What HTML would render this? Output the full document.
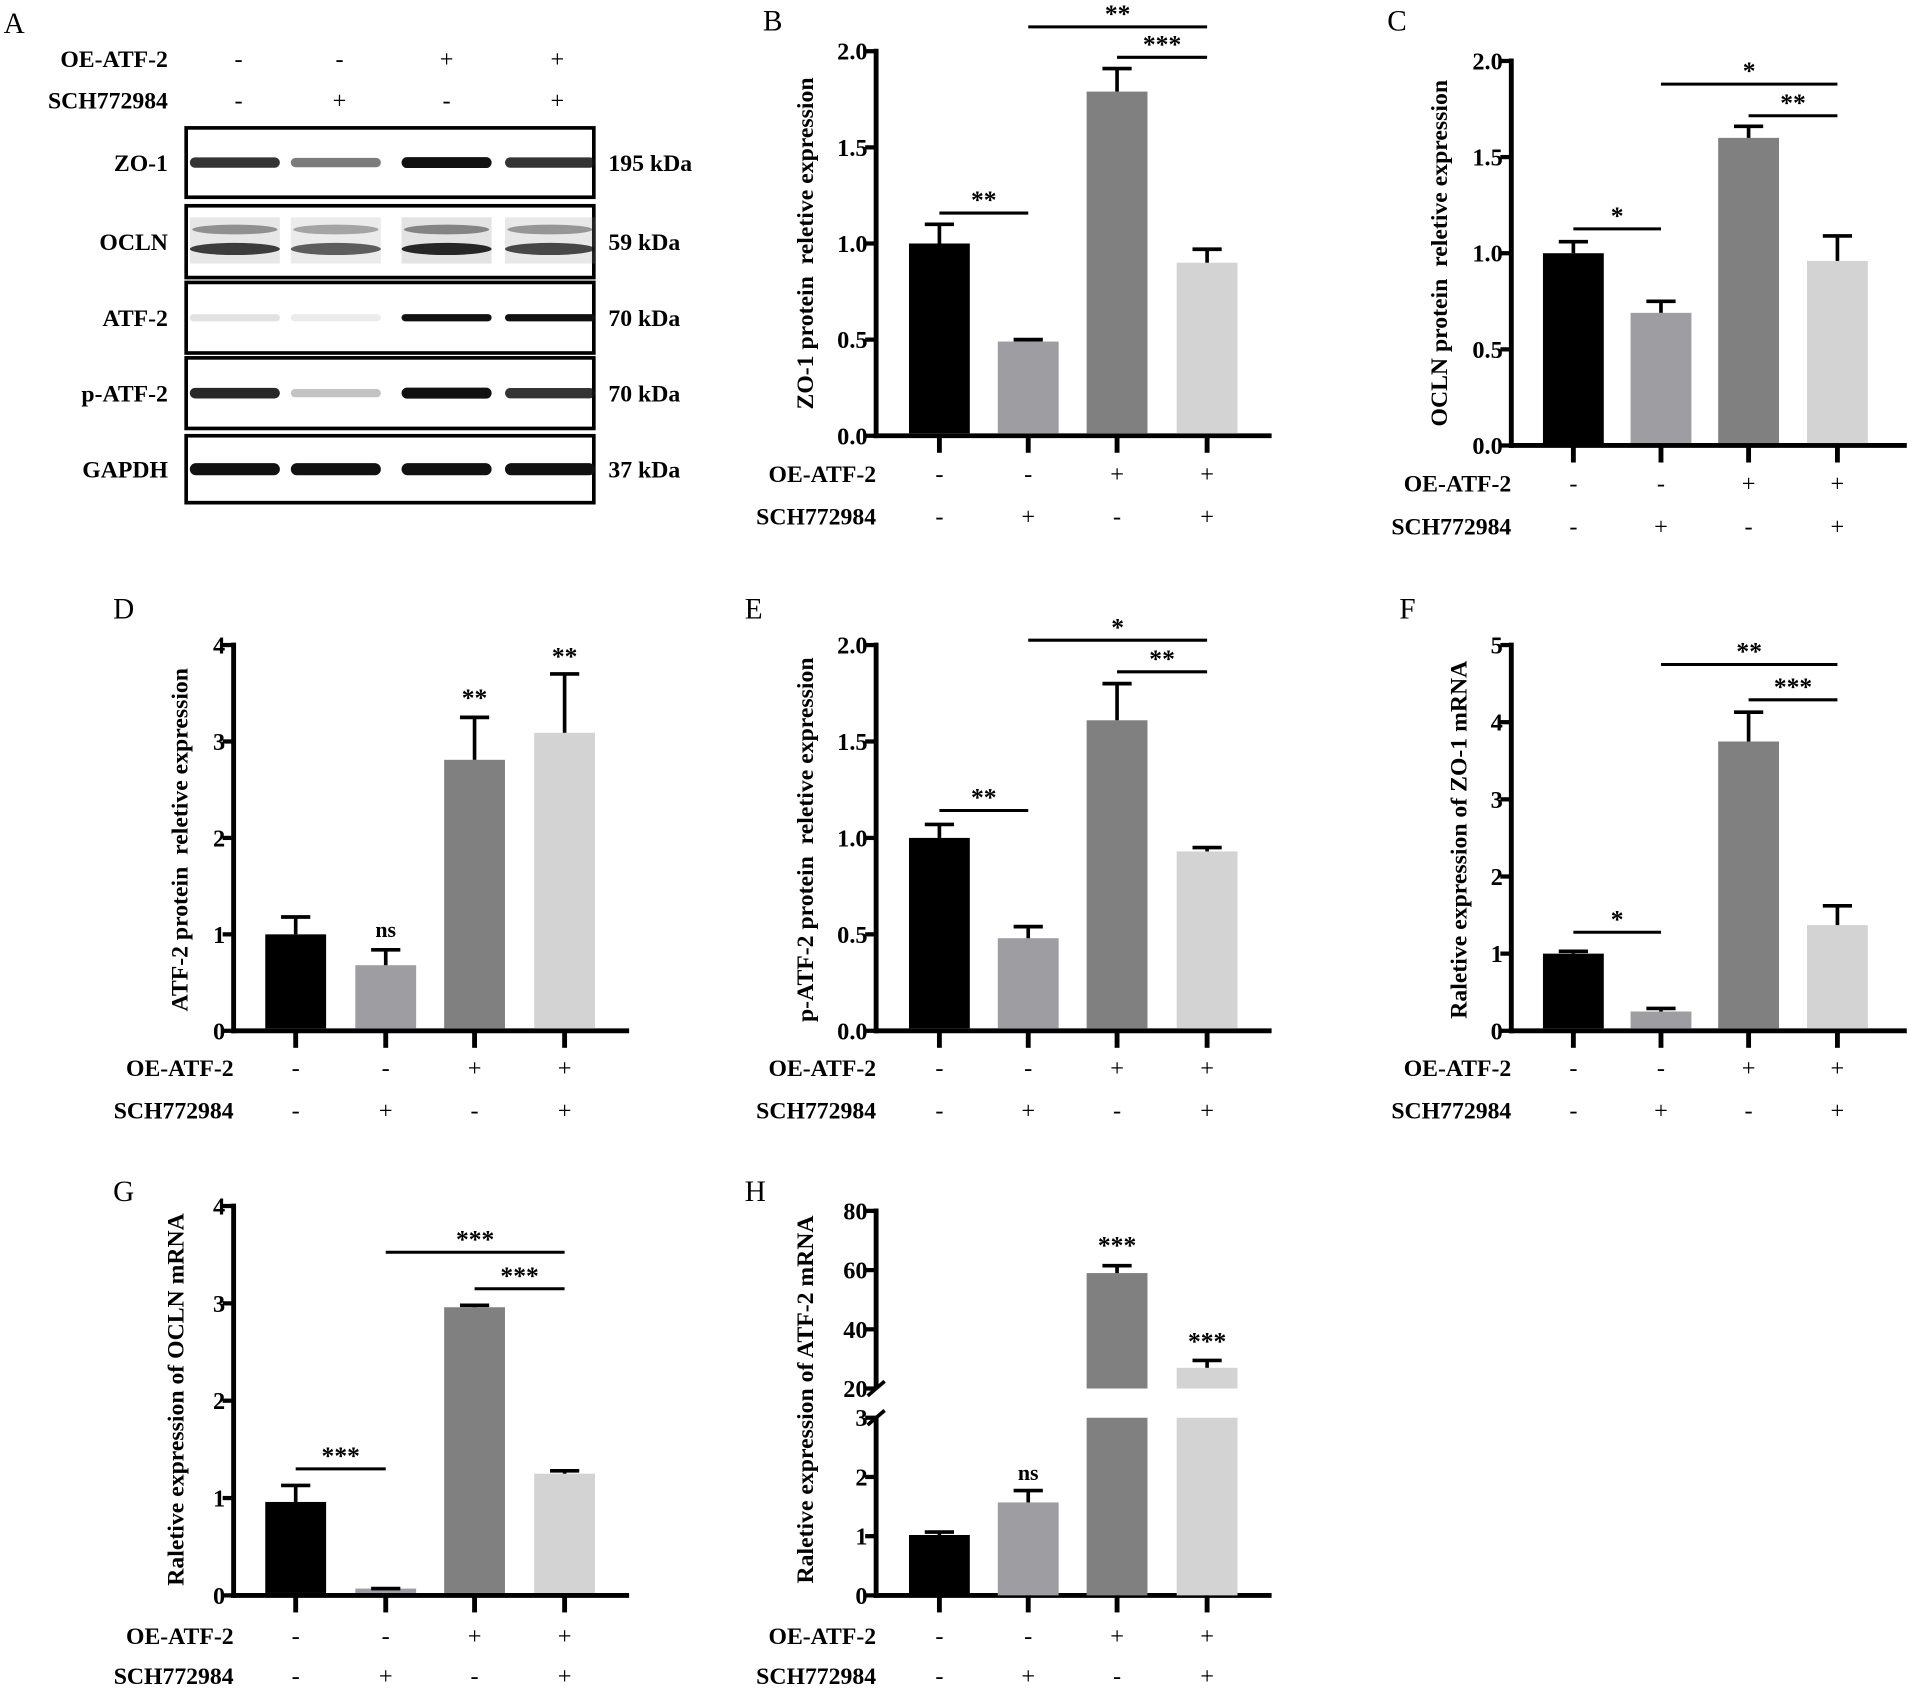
<!DOCTYPE html>
<html><head><meta charset="utf-8">
<style>
html,body{margin:0;padding:0;background:#fff;}
svg{display:block;}
text{font-family:"Liberation Serif",serif;white-space:pre;}
</style></head>
<body>
<svg id="fig" xmlns="http://www.w3.org/2000/svg" width="1908" height="1688" viewBox="0 0 1568 1387">
<g id="panelA"></g>
</svg>
<script>
// ---------- data ----------
const conditionOE = ["-","-","+","+"];
const conditionSCH = ["-","+","-","+"];
const barColors = ["#000000","#9d9da2","#808080","#d3d3d3"];

const zo1Protein = [1.0,0.49,1.79,0.90];
const zo1ProteinErr = [0.10,0.01,0.12,0.07];
const oclnProtein = [1.0,0.69,1.60,0.96];
const oclnProteinErr = [0.06,0.06,0.06,0.13];
const atf2Protein = [1.0,0.68,2.81,3.09];
const atf2ProteinErr = [0.18,0.16,0.44,0.61];
const patf2Protein = [1.0,0.48,1.61,0.93];
const patf2ProteinErr = [0.07,0.06,0.19,0.02];
const zo1Mrna = [1.0,0.25,3.75,1.37];
const zo1MrnaErr = [0.03,0.04,0.38,0.25];
const oclnMrna = [0.96,0.07,2.96,1.25];
const oclnMrnaErr = [0.17,0.0,0.02,0.03];
const atf2Mrna = [1.02,1.57,59.0,27.0];
const atf2MrnaErr = [0.05,0.20,2.5,2.5];

const ticks2 = [0,0.5,1.0,1.5,2.0];
const ticks2Labels = ["0.0","0.5","1.0","1.5","2.0"];
const ticks4 = [0,1,2,3,4];
const ticks4Labels = ["0","1","2","3","4"];
const ticks5 = [0,1,2,3,4,5];
const ticks5Labels = ["0","1","2","3","4","5"];
const ticksHLow = [0,1,2,3];
const ticksHLowLabels = ["0","1","2","3"];
const ticksHHigh = [20,40,60,80];
const ticksHHighLabels = ["20","40","60","80"];

const blotRows = ["ZO-1","OCLN","ATF-2","p-ATF-2","GAPDH"];
const blotKda = ["195 kDa","59 kDa","70 kDa","70 kDa","37 kDa"];
const blotIntensity = [[0.85,0.55,1.0,0.85],[0.8,0.65,0.9,0.75],[0.12,0.08,1.0,1.0],[0.9,0.25,1.0,0.85],[1,1,1,1]];

// ---------- helpers ----------
const NS="http://www.w3.org/2000/svg";
const svg=document.getElementById('fig');
function mk(tag,attrs,parent,txt){const e=document.createElementNS(NS,tag);for(const k in attrs)e.setAttribute(k,attrs[k]);if(txt!==undefined)e.textContent=txt;(parent||svg).appendChild(e);return e;}
const FT=20, FL=19.5, FY=19.5;

function panel(cfg){
  const g=mk('g',{},svg);
  
  
  const L=mk('text',{x:cfg.letterX,y:cfg.letterY,'font-size':24},g,cfg.id.toUpperCase());
  
  
  const ax=cfg.axisX, y0=cfg.y0;
  const yScale = cfg.yScale;
  cfg.tickSets.forEach(ts=>{
    ts.ticks.forEach((t,i)=>{
      const y=ts.scale(t);
      mk('line',{x1:ax-9,x2:ax,y1:y,y2:y,stroke:'#000','stroke-width':3.5},g);
      const tl=mk('text',{x:ax-7,y:y+7,'font-size':FT,'font-weight':'bold','text-anchor':'end'},g,ts.labels[i]);
      
      
    });
  });
  cfg.axisSegs.forEach(s=>{
    const a=mk('line',{x1:ax,x2:ax,y1:s[0],y2:s[1],stroke:'#000','stroke-width':4},g);
    
    
  });
  const xa=mk('line',{x1:ax-2,x2:ax+325,y1:y0,y2:y0,stroke:'#000','stroke-width':4},g);
  
  
  const bw=50;
  cfg.values.forEach((v,i)=>{
    const cx=cfg.centers[i];
    const segs = cfg.barSegs ? cfg.barSegs(v) : [[yScale(v),y0]];
    segs.forEach(sg=>{
      const r=mk('rect',{x:cx-bw/2,y:sg[0],width:bw,height:Math.max(0,sg[1]-sg[0]-2),fill:barColors[i]},g);
      
      
    });
    const top=cfg.errScale(v), et=cfg.errScale(v+cfg.errs[i]);
    if(cfg.errs[i]>0){
      const el=mk('line',{x1:cx,x2:cx,y1:top,y2:et,stroke:'#000','stroke-width':3},g);
      
      
    }
    const cp=mk('line',{x1:cx-12,x2:cx+12,y1:et,y2:et,stroke:'#000','stroke-width':3},g);
    
    
    mk('line',{x1:cx,x2:cx,y1:y0,y2:y0+14,stroke:'#000','stroke-width':4},g);
    const s1=mk('text',{x:cx,y:cfg.row1Y,'font-size':20,'text-anchor':'middle'},g,conditionOE[i]);
    
    
    const s2=mk('text',{x:cx,y:cfg.row2Y,'font-size':20,'text-anchor':'middle'},g,conditionSCH[i]);
    
    
  });
  const r1=mk('text',{x:ax,y:cfg.row1Y,'font-size':FL,'font-weight':'bold','text-anchor':'end'},g,'OE-ATF-2');
  
  
  const r2=mk('text',{x:ax,y:cfg.row2Y,'font-size':FL,'font-weight':'bold','text-anchor':'end'},g,'SCH772984');
  
  
  const yt=mk('text',{x:0,y:0,'font-size':FY,'font-weight':'bold','text-anchor':'middle',transform:`translate(${cfg.titleX},${cfg.titleY}) rotate(-90)`},g,cfg.title);
  
  
  cfg.sig.forEach(s=>{
    if(s.from!==undefined){
      const ln=mk('line',{x1:cfg.centers[s.from],x2:cfg.centers[s.to],y1:s.y,y2:s.y,stroke:'#000','stroke-width':2.5},g);
      
      
    }
    const cx = s.from!==undefined ? (cfg.centers[s.from]+cfg.centers[s.to])/2 : cfg.centers[s.at];
    const t=mk('text',{x:cx,y:s.y-4,'font-size':s.label==='ns'?18:21,'font-weight':'bold','text-anchor':'middle'},g,s.label);
    
    
  });
  return g;
}
function lin(v0,p0,v1,p1){return v=>p0+(v-v0)*(p1-p0)/(v1-v0);}

const cR=[772,845,918,992], cL=[243,317,390,464], cC=[1293,1365,1437,1510];

(function(){const s=lin(0,358,2,42);panel({id:'b',letterX:627,letterY:25,axisX:720,y0:358,yScale:s,errScale:s,
 tickSets:[{ticks:ticks2,labels:ticks2Labels,scale:s}],axisSegs:[[40,360]],values:zo1Protein,errs:zo1ProteinErr,centers:cR,
 row1Y:396,row2Y:431,title:'ZO-1 protein  reletive expression',titleX:668,titleY:200,
 sig:[{from:0,to:1,y:175,label:'**'},{from:1,to:3,y:22,label:'**'},{from:2,to:3,y:47,label:'***'}]});})();
(function(){const s=lin(0,366,2,50);panel({id:'c',letterX:1140,letterY:25,axisX:1242,y0:366,yScale:s,errScale:s,
 tickSets:[{ticks:ticks2,labels:ticks2Labels,scale:s}],axisSegs:[[48,368]],values:oclnProtein,errs:oclnProteinErr,centers:cC,
 row1Y:404,row2Y:439,title:'OCLN protein  reletive expression',titleX:1189,titleY:208,
 sig:[{from:0,to:1,y:188,label:'*'},{from:1,to:3,y:69,label:'*'},{from:2,to:3,y:95,label:'**'}]});})();
(function(){const s=lin(0,847,4,530);panel({id:'d',letterX:93,letterY:508,axisX:192,y0:847,yScale:s,errScale:s,
 tickSets:[{ticks:ticks4,labels:ticks4Labels,scale:s}],axisSegs:[[528,849]],values:atf2Protein,errs:atf2ProteinErr,centers:cL,
 row1Y:884,row2Y:919,title:'ATF-2 protein  reletive expression',titleX:154,titleY:690,
 sig:[{at:1,y:774,label:'ns'},{at:2,y:584,label:'**'},{at:3,y:550,label:'**'}]});})();
(function(){const s=lin(0,847,2,530);panel({id:'e',letterX:612,letterY:508,axisX:720,y0:847,yScale:s,errScale:s,
 tickSets:[{ticks:ticks2,labels:ticks2Labels,scale:s}],axisSegs:[[528,849]],values:patf2Protein,errs:patf2ProteinErr,centers:cR,
 row1Y:884,row2Y:919,title:'p-ATF-2 protein  reletive expression',titleX:668,titleY:690,
 sig:[{from:0,to:1,y:666,label:'**'},{from:1,to:3,y:526,label:'*'},{from:2,to:3,y:552,label:'**'}]});})();
(function(){const s=lin(0,847,5,530);panel({id:'f',letterX:1150,letterY:508,axisX:1242,y0:847,yScale:s,errScale:s,
 tickSets:[{ticks:ticks5,labels:ticks5Labels,scale:s}],axisSegs:[[528,849]],values:zo1Mrna,errs:zo1MrnaErr,centers:cC,
 row1Y:884,row2Y:919,title:'Raletive expression of ZO-1 mRNA',titleX:1205,titleY:690,
 sig:[{from:0,to:1,y:766,label:'*'},{from:1,to:3,y:546,label:'**'},{from:2,to:3,y:575,label:'***'}]});})();
(function(){const s=lin(0,1311,4,991);panel({id:'g',letterX:93,letterY:987,axisX:192,y0:1311,yScale:s,errScale:s,
 tickSets:[{ticks:ticks4,labels:ticks4Labels,scale:s}],axisSegs:[[989,1313]],values:oclnMrna,errs:oclnMrnaErr,centers:cL,
 row1Y:1351,row2Y:1384,title:'Raletive expression of OCLN mRNA',titleX:151,titleY:1150,
 sig:[{from:0,to:1,y:1207,label:'***'},{from:1,to:3,y:1029,label:'***'},{from:2,to:3,y:1059,label:'***'}]});})();
(function(){const lo=lin(0,1311,3,1165), hi=lin(20,1141,80,995);
 const sc=v=> v<=3?lo(v):(v>=20?hi(v):1153);
 const g=panel({id:'h',letterX:612,letterY:987,axisX:720,y0:1311,yScale:sc,errScale:sc,
 tickSets:[{ticks:ticksHLow,labels:ticksHLowLabels,scale:lo},{ticks:ticksHHigh,labels:ticksHHighLabels,scale:hi}],
 axisSegs:[[993,1141],[1165,1313]],values:atf2Mrna,errs:atf2MrnaErr,centers:cR,
 barSegs:v=> v>3?[[hi(v),1143],[lo(3),1313]]:[[lo(v),1313]],
 row1Y:1351,row2Y:1384,title:'Raletive expression of ATF-2 mRNA',titleX:668,titleY:1150,
 sig:[{at:1,y:1220,label:'ns'},{at:2,y:1034,label:'***'},{at:3,y:1113,label:'***'}]});
 [[1141],[1165]].forEach(b=>{const l=mk('line',{x1:713,x2:727,y1:b[0]+6,y2:b[0]-6,stroke:'#000','stroke-width':3},g);
  });
})();

(function(){
 const g=document.getElementById('panelA');
 mk('text',{x:3,y:27,'font-size':24},g,'A');
 const lanes=[193,276,367,452];
 mk('text',{x:138,y:55,'font-size':FL,'font-weight':'bold','text-anchor':'end'},g,'OE-ATF-2');
 mk('text',{x:138,y:89,'font-size':FL,'font-weight':'bold','text-anchor':'end'},g,'SCH772984');
 const hx=[196,279,367,458];
 hx.forEach((x,i)=>{mk('text',{x:x,y:55,'font-size':20,'text-anchor':'middle'},g,conditionOE[i]);mk('text',{x:x,y:89,'font-size':20,'text-anchor':'middle'},g,conditionSCH[i]);});
 const rowsY=[[105,162],[169,228],[232,290],[294,352],[358,413]];
 rowsY.forEach((r,ri)=>{
  const box=mk('rect',{x:153,y:r[0],width:335,height:r[1]-r[0],fill:'#fff',stroke:'#000','stroke-width':3},g);
  
  
  mk('text',{x:138,y:(r[0]+r[1])/2+7,'font-size':FL,'font-weight':'bold','text-anchor':'end'},g,blotRows[ri]);
  mk('text',{x:500,y:(r[0]+r[1])/2+7,'font-size':FL,'font-weight':'bold'},g,blotKda[ri]);
  const cy=(r[0]+r[1])/2;
  lanes.forEach((lx,li)=>{
   const a=blotIntensity[ri][li];
   if(ri===1){
     mk('rect',{x:lx-37,y:cy-20,width:74,height:38,fill:'#999',opacity:0.3*a},g);
     mk('ellipse',{cx:lx,cy:cy+6,rx:37,ry:5,fill:'#111',opacity:a},g);
     mk('ellipse',{cx:lx,cy:cy-10,rx:35,ry:4,fill:'#333',opacity:0.6*a},g);
   } else {
     const h = ri===4?10:(ri===2?6:6+3*a);
     mk('rect',{x:lx-37,y:cy-h/2,width:74,height:h,rx:h/2,fill:'#111',opacity:a},g);
   }
  });
 });
})();
</script>
</body></html>
